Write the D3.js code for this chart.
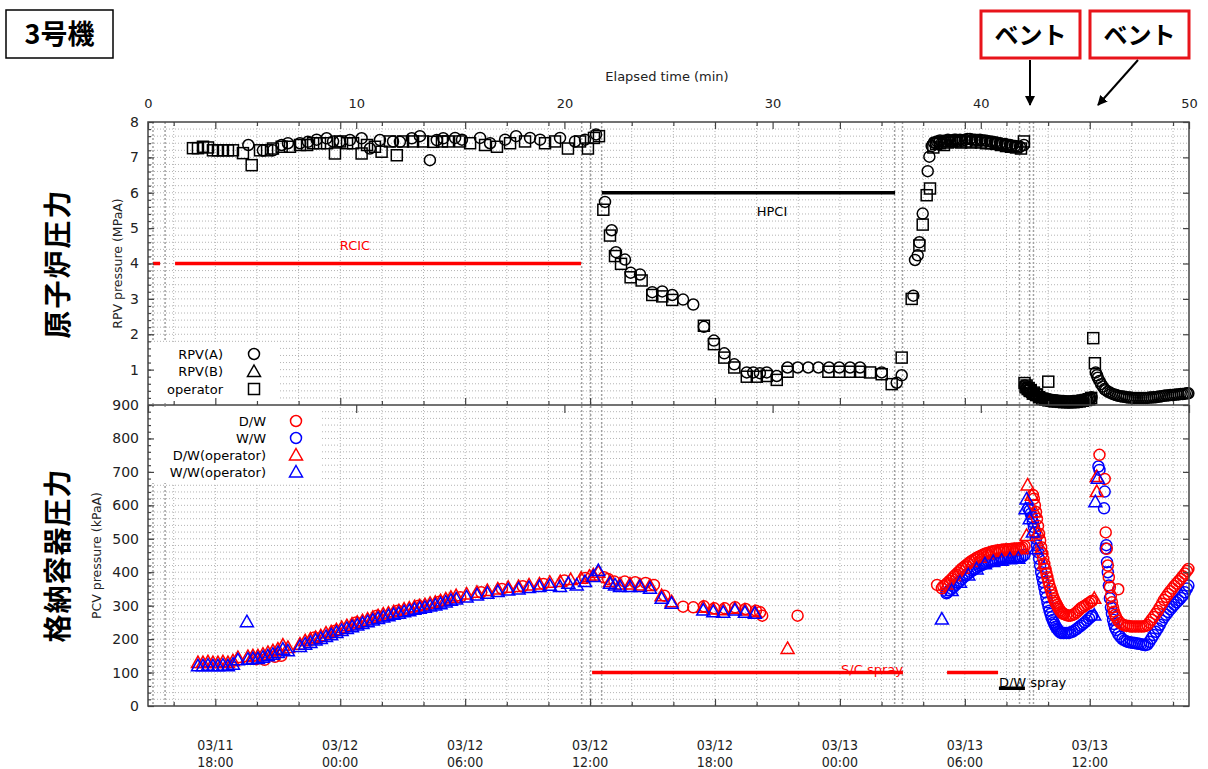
<!DOCTYPE html>
<html><head><meta charset="utf-8">
<script src="https://cdn.jsdelivr.net/npm/d3@7"></script>
<style>
body{margin:0;background:#fff;}
svg{display:block;}
text{font-family:"DejaVu Sans",sans-serif;}
</style>
</head><body>
<svg id="c" width="1208" height="769"></svg>
<script>
// ===== DATA (x = elapsed hours since 03/11 14:46) =====
const elapsedTicks = [0,10,20,30,40,50];
const rpvTicks = [1,2,3,4,5,6,7,8];
const pcvTicks = [0,100,200,300,400,500,600,700,800,900];
const eventHours = [0.24,0.82,20.83,21.26,21.79,35.86,36.24,41.86,42.34,42.53];

// RPV(A) circles [h, MPa]
const rpvA = [
[4.82,7.35],[5.52,7.2],[6.0,7.2],[6.42,7.35],[6.72,7.4],[7.3,7.4],[7.68,7.44],[8.1,7.5],[8.58,7.54],[8.89,7.45],
[9.22,7.45],[9.7,7.49],[10.26,7.54],[10.66,7.25],[11.14,7.49],[11.77,7.45],[12.1,7.44],[12.67,7.54],[13.06,7.6],[13.54,6.92],
[13.87,7.49],[14.18,7.54],[14.75,7.55],[15.08,7.5],[15.95,7.55],[16.43,7.4],[17.15,7.5],[17.68,7.6],[18.35,7.55],[18.83,7.5],
[19.79,7.55],[20.51,7.45],[20.99,7.5],[21.52,7.65],
[21.95,5.74],[22.27,4.94],[22.48,4.32],[22.91,4.11],[23.18,3.74],[23.63,3.69],[24.22,3.19],[24.7,3.21],[25.18,3.11],[25.7,2.98],
[26.19,2.84],[26.7,2.21],[27.18,1.82],[27.68,1.46],[28.16,1.15],[28.76,0.92],[29.07,0.92],[29.39,0.9],[29.72,0.92],[30.2,0.82],
[30.72,1.06],[31.21,1.06],[31.71,1.06],[32.2,1.06],[32.71,1.06],[33.2,1.06],[33.72,1.06],[34.2,1.06],[35.24,0.92],[35.96,0.63],[36.2,0.84],
[36.76,3.09],[36.84,4.1],[36.97,4.23],[37.05,4.6],[37.21,5.41],[37.45,6.61],[37.53,7.02],[37.64,7.32],[37.75,7.42],[37.85,7.4],[37.9,7.45],
[38.0,7.45],[38.04,7.48],[38.15,7.44],[38.23,7.47],[38.33,7.45],[38.42,7.5],[38.52,7.46],[38.62,7.48],[38.72,7.5],[38.81,7.5],[38.9,7.47],[39.0,7.5],
[39.12,7.48],[39.24,7.5],[39.36,7.52],[39.48,7.52],[39.6,7.5],[39.72,7.5],[39.84,7.49],[39.96,7.5],[40.08,7.48],
[40.2,7.48],[40.32,7.46],[40.44,7.45],[40.56,7.44],[40.68,7.43],[40.8,7.41],[40.92,7.4],[41.04,7.38],[41.16,7.38],[41.28,7.36],[41.4,7.35],
[41.52,7.33],[41.64,7.32],[41.76,7.31],[41.88,7.3],[42.07,7.35],
[42.12,0.55],[42.18,0.45],[42.25,0.4],[42.32,0.36],[42.4,0.33],[42.47,0.3],[42.55,0.28],[42.62,0.26],[42.7,0.25],[42.78,0.23],
[42.85,0.22],[42.93,0.2],[43.0,0.19],[43.08,0.18],[43.15,0.17],[43.23,0.16],[43.3,0.15],[43.38,0.14],[43.45,0.14],[43.53,0.13],
[43.6,0.13],[43.68,0.12],[43.75,0.12],[43.83,0.11],[43.9,0.11],[43.98,0.11],[44.05,0.1],[44.13,0.1],[44.2,0.1],[44.28,0.1],
[44.35,0.1],[44.43,0.11],[44.5,0.11],[44.58,0.11],[44.65,0.12],[44.73,0.12],[44.8,0.13],[44.88,0.14],[44.95,0.15],[45.03,0.16],
[45.1,0.17],[45.18,0.18],[45.25,0.2],[45.32,0.22],
[45.52,0.92],[45.58,0.84],[45.62,0.77],[45.7,0.68],[45.78,0.59],[45.86,0.52],[45.94,0.45],[46.0,0.42],[46.1,0.38],[46.2,0.35],[46.3,0.32],
[46.4,0.3],[46.5,0.28],[46.6,0.26],[46.7,0.25],[46.8,0.24],[46.9,0.23],[47.0,0.22],[47.1,0.21],[47.2,0.21],[47.3,0.2],
[47.4,0.2],[47.5,0.2],[47.6,0.2],[47.7,0.2],[47.8,0.2],[47.9,0.2],[48.0,0.2],[48.1,0.21],[48.2,0.21],[48.3,0.22],
[48.4,0.22],[48.5,0.23],[48.6,0.24],[48.7,0.25],[48.8,0.26],[48.9,0.27],[49.0,0.27],[49.1,0.28],[49.2,0.28],[49.3,0.29],
[49.4,0.3],[49.5,0.3],[49.6,0.31],[49.7,0.31],[49.8,0.32],[49.9,0.33],[49.97,0.33]
];
// RPV(B) triangles (legend only, no readings visible)
const rpvB = [];
// operator squares [h, MPa]
const rpvOp = [
[2.16,7.26],[2.4,7.26],[2.64,7.3],[2.88,7.28],[3.12,7.2],[3.36,7.2],[3.6,7.2],[3.84,7.2],[4.08,7.2],[4.56,7.12],
[4.98,6.78],[5.38,7.2],[5.72,7.2],[6.0,7.25],[6.42,7.3],[6.82,7.3],[7.3,7.35],[7.64,7.35],[7.93,7.4],[8.26,7.4],
[8.6,7.4],[8.98,7.11],[9.22,7.45],[9.56,7.4],[9.85,7.4],[10.26,7.11],[10.52,7.35],[10.9,7.3],[11.22,7.16],[11.62,7.45],
[11.95,7.06],[12.25,7.45],[12.73,7.45],[13.21,7.45],[13.7,7.44],[14.12,7.45],[14.41,7.45],[14.99,7.45],[15.47,7.4],[16.19,7.35],
[16.76,7.3],[17.39,7.4],[18.11,7.45],[19.07,7.4],[19.55,7.45],[20.17,7.25],[20.75,7.45],[21.13,7.25],[21.42,7.55],[21.66,7.6],
[21.87,5.52],[22.19,4.79],[22.43,4.21],[22.72,3.99],[23.18,3.61],[23.71,3.52],[24.22,3.11],[24.7,3.07],[25.18,2.97],[26.7,2.24],
[27.18,1.72],[27.68,1.34],[28.16,1.06],[28.76,0.8],[29.24,0.8],[29.72,0.82],[30.2,0.71],[30.72,0.94],[32.68,0.94],[33.2,0.94],
[33.72,0.94],[34.2,0.94],[34.68,0.92],[35.24,0.87],[35.72,0.59],[36.2,1.34],
[36.68,3.0],[37.05,4.51],[37.21,5.1],[37.4,5.93],[37.56,6.12],[37.72,7.28],[37.85,7.38],[38.04,7.4],[38.23,7.35],[38.42,7.42],
[38.62,7.45],[38.81,7.45],[39.05,7.42],[39.29,7.45],[39.53,7.42],[39.77,7.45],[40.01,7.42],[40.25,7.4],[40.49,7.4],[40.73,7.38],
[40.97,7.35],[41.21,7.32],[41.45,7.3],[41.69,7.28],[41.93,7.25],[42.07,7.45],
[42.1,0.62],[42.15,0.5],[42.2,0.55],[42.25,0.45],[42.3,0.48],[42.35,0.4],[42.4,0.42],[42.5,0.32],[42.55,0.35],[42.65,0.28],
[42.7,0.3],[42.8,0.22],[42.95,0.18],[43.1,0.15],[43.24,0.66],[43.25,0.13],[43.4,0.12],[43.55,0.1],[43.7,0.1],[43.85,0.09],
[44.0,0.08],[44.15,0.08],[44.3,0.08],[44.45,0.08],[44.6,0.09],[44.75,0.1],[44.9,0.12],[45.05,0.14],[45.2,0.16],[45.3,0.2],
[45.4,1.89],[45.48,1.18]
];

// PCV: D/W circles [h, kPa]
const dwCirc = [
[5.2,140],[5.6,138],[6.1,147],[6.4,150],[8.0,205],[9.0,225],[10.0,250],[11.0,270],[12.0,285],[13.0,300],
[14.0,312],[15.0,325],[16.0,340],[17.0,350],[18.0,358],[19.0,365],[20.0,375],[21.0,383],
[21.9,385],[22.1,380],[22.4,372],[22.9,372],[23.4,370],[23.9,368],[24.3,362],[24.8,330],[25.7,297],[26.19,295],
[26.7,298],[27.2,292],[27.7,292],[28.2,295],[28.7,290],[29.2,285],[29.4,280],[29.5,270],[31.2,270],
[37.9,362],[38.13,352],[38.2,358],[38.3,362],[38.4,368],[38.5,374],[38.6,380],[38.7,387],[38.8,393],[38.9,399],
[39.0,405],[39.1,411],[39.2,416],[39.3,421],[39.4,426],[39.5,431],[39.6,435],[39.7,439],[39.8,443],[39.9,446],
[40.0,449],[40.1,452],[40.2,455],[40.3,457],[40.4,459],[40.5,461],[40.6,463],[40.7,464],[40.8,465],[40.9,466],
[41.0,467],[41.1,468],[41.2,468],[41.3,469],[41.4,469],[41.5,470],[41.6,470],[41.7,471],[41.8,471],[41.9,472],
[42.0,474],[42.1,478],
[42.5,631],[42.55,620],[42.6,600],[42.65,580],[42.7,560],[42.75,538],[42.8,515],[42.85,495],[42.9,475],[42.95,457],
[43.0,440],[43.05,425],[43.1,410],[43.15,397],[43.2,385],[43.25,372],[43.3,360],[43.35,350],[43.4,340],[43.45,331],
[43.5,322],[43.55,315],[43.6,308],[43.65,302],[43.7,296],[43.75,291],[43.8,286],[43.85,282],[43.9,278],[43.95,276],
[44.0,275],[44.1,272],[44.2,270],[44.3,270],[44.4,272],[44.5,275],[44.6,280],[44.7,286],[44.8,292],[44.9,296],
[45.0,300],[45.1,304],[45.2,308],[45.3,312],[45.35,315],
[45.7,751],[45.95,679],[46.0,519],[46.05,470],[46.1,420],[46.15,385],[46.2,355],[46.25,330],[46.3,310],[46.35,295],
[46.4,282],[46.45,272],[46.5,265],[46.6,255],[46.6,349],[46.7,248],[46.8,244],[46.9,241],[47.0,240],[47.1,239],
[47.2,238],[47.3,238],[47.4,238],[47.5,238],[47.6,238],[47.7,238],[47.8,238],[47.9,239],[48.0,242],[48.1,250],
[48.2,258],[48.3,266],[48.4,275],[48.5,284],[48.6,295],[48.7,306],[48.8,317],[48.9,326],[49.0,335],[49.1,343],
[49.2,351],[49.3,359],[49.4,366],[49.5,373],[49.6,380],[49.7,388],[49.8,396],[49.9,404],[49.97,410]
];
// PCV: W/W circles
const wwCirc = [
[38.35,337],[38.4,340],[38.5,345],[38.6,350],[38.7,356],[38.8,362],[38.9,368],[39.0,374],[39.1,380],[39.2,386],
[39.3,391],[39.4,396],[39.5,401],[39.6,405],[39.7,409],[39.8,413],[39.9,417],[40.0,420],[40.1,423],[40.2,426],
[40.3,428],[40.4,430],[40.5,432],[40.6,434],[40.7,435],[40.8,437],[40.9,438],[41.0,439],[41.1,440],[41.2,441],
[41.3,442],[41.4,442],[41.5,443],[41.6,443],[41.7,444],[41.8,444],[41.9,445],[42.0,447],[42.1,452],
[42.28,591],[42.35,585],[42.4,575],[42.45,565],[42.5,550],[42.55,535],[42.6,518],[42.65,500],[42.7,480],[42.75,460],
[42.8,440],[42.85,420],[42.9,400],[42.95,385],[43.0,370],[43.05,355],[43.1,340],[43.15,325],[43.2,310],[43.25,297],
[43.3,285],[43.35,275],[43.4,265],[43.45,257],[43.5,250],[43.55,243],[43.6,237],[43.65,232],[43.7,228],[43.75,224],
[43.8,221],[43.85,219],[43.9,218],[44.0,218],[44.1,218],[44.2,218],[44.3,220],[44.4,222],[44.5,226],[44.6,230],
[44.7,235],[44.8,240],[44.9,245],[45.0,250],[45.1,256],[45.2,262],[45.3,267],[45.35,270],
[45.65,716],[45.7,706],[45.92,591],[45.95,641],[46.0,471],[46.03,481],[46.06,430],[46.1,400],[46.15,360],[46.2,322],
[46.25,295],[46.3,275],[46.35,258],[46.4,245],[46.45,235],[46.5,227],[46.6,215],[46.7,207],[46.8,200],[46.9,196],
[47.0,193],[47.1,191],[47.2,190],[47.3,189],[47.4,188],[47.5,187],[47.6,186],[47.7,185],[47.8,183],[47.9,182],
[48.0,184],[48.1,192],[48.2,202],[48.3,212],[48.4,222],[48.5,232],[48.6,243],[48.7,255],[48.8,265],[48.9,273],
[49.0,281],[49.1,289],[49.2,296],[49.3,303],[49.4,310],[49.5,316],[49.6,323],[49.7,330],[49.8,340],[49.9,351],[49.97,360]
];
// PCV: D/W(operator) triangles
const dwOp = [
[2.4,130],[2.64,130],[2.88,132],[3.12,130],[3.36,130],[3.6,132],[3.84,130],[4.08,135],[4.32,145],[4.8,148],
[5.04,150],[5.28,150],[5.52,155],[5.76,160],[6.0,165],[6.24,170],[6.48,182],[6.72,175],[7.3,185],[7.55,195],
[7.8,200],[8.05,205],[8.3,210],[8.55,218],[8.8,222],[9.05,228],[9.3,235],[9.55,240],[9.8,245],[10.05,250],
[10.3,255],[10.55,260],[10.8,265],[11.05,270],[11.3,275],[11.55,278],[11.8,282],[12.05,285],[12.3,290],[12.55,293],
[12.8,297],[13.05,300],[13.3,303],[13.55,307],[13.8,310],[14.05,315],[14.3,320],[14.55,325],[14.8,330],[15.3,335],
[15.8,340],[16.3,345],[16.8,350],[17.3,355],[17.8,357],[18.3,362],[18.8,365],[19.3,370],[19.8,372],[20.3,378],
[20.8,382],[21.2,388],[21.39,392],[21.63,400],[22.19,372],[22.67,365],[23.15,365],[23.63,362],[24.11,360],[24.67,330],
[25.15,312],[26.67,295],[27.15,290],[27.63,288],[28.19,292],[28.67,287],[29.15,282],[30.72,172],
[38.4,365],[38.8,390],[39.2,412],[39.6,432],[40.0,445],[40.4,455],[40.8,462],[41.2,465],[41.6,467],[42.0,470],
[42.2,510],[42.25,661],[42.45,630],[42.6,580],[42.75,520],[42.9,470],[43.05,425],[45.45,322],[45.57,686],[45.57,641]
];
// PCV: W/W(operator) triangles
const wwOp = [
[2.4,120],[2.64,120],[2.88,122],[3.12,120],[3.36,120],[3.6,122],[3.84,120],[4.08,125],[4.32,138],[4.75,252],
[4.8,140],[5.04,142],[5.28,142],[5.52,146],[5.76,150],[6.0,155],[6.24,160],[6.48,170],[6.72,165],[7.3,178],
[7.55,185],[7.8,190],[8.05,197],[8.3,202],[8.55,208],[8.8,213],[9.05,220],[9.3,226],[9.55,232],[9.8,237],
[10.05,242],[10.3,247],[10.55,252],[10.8,257],[11.05,262],[11.3,266],[11.55,270],[11.8,274],[12.05,277],[12.3,282],
[12.55,285],[12.8,289],[13.05,292],[13.3,295],[13.55,299],[13.8,302],[14.05,306],[14.3,311],[14.55,316],[14.8,320],
[15.3,326],[15.8,332],[16.3,337],[16.8,342],[17.3,347],[17.8,350],[18.3,354],[18.8,357],[19.3,361],[19.79,357],
[20.19,367],[20.59,362],[20.99,372],[21.39,387],[21.63,405],[22.19,367],[22.43,362],[22.67,357],[23.15,357],[23.63,357],
[24.11,352],[24.67,322],[25.15,307],[26.67,287],[27.15,282],[27.63,280],[28.19,287],[28.67,280],[29.15,277],
[38.13,260],[38.6,345],[39.0,370],[39.4,392],[39.8,410],[40.2,425],[40.6,432],[41.0,436],[41.4,440],[41.8,442],
[42.15,590],[42.2,619],[42.35,560],[42.5,520],[42.65,470],[45.45,272],[45.5,611],[45.62,681]
];

// Bars
const rcicSegs = [[0.24,0.58],[1.3,20.8]];     // at 4 MPa
const hpciSeg = [21.8,35.88];                   // at 6 MPa
const scSpraySegs = [[21.33,36.26],[38.38,40.83]]; // at 100 kPa
const dwSpraySeg = [40.87,42.12];               // at 53 kPa

// ===== CHART =====
const svg = d3.select("#c");
const L=148,R=1189,T=122,M=405,B=706;
const t0 = new Date(2011,2,11,14,46);
const tEnd = d3.timeHour.offset(t0,50);
const xE = d3.scaleLinear().domain([0,50]).range([L,R]);
const xD = d3.scaleTime().domain([t0,tEnd]).range([L,R]);
const yR = d3.scaleLinear().domain([0,8]).range([M,T]);
const yP = d3.scaleLinear().domain([0,900]).range([B,M]);
const date2h = d3.timeHour.every(2).range(t0,tEnd);
const date6h = date2h.filter(d=>d.getHours()%6===0);
const date2only = date2h.filter(d=>d.getHours()%6!==0);

// grid
const grid = svg.append("g").attr("stroke","#b4b4b4").attr("stroke-width",1).attr("stroke-dasharray","1,2");
d3.range(1,40).forEach(i=>{const v=i*0.2; grid.append("line").attr("x1",L).attr("x2",R).attr("y1",yR(v)).attr("y2",yR(v));});
d3.range(1,45).forEach(i=>{const v=i*20; grid.append("line").attr("x1",L).attr("x2",R).attr("y1",yP(v)).attr("y2",yP(v));});
date2h.forEach(d=>{grid.append("line").attr("x1",xD(d)).attr("x2",xD(d)).attr("y1",T).attr("y2",B);});
// event lines
const ev = svg.append("g").attr("stroke","#a0a0a0").attr("stroke-width",1.5).attr("stroke-dasharray","2,2");
eventHours.forEach(h=>{ev.append("line").attr("x1",xE(h)).attr("x2",xE(h)).attr("y1",T).attr("y2",B);});

// legend backgrounds
svg.append("rect").attr("x",150).attr("y",342).attr("width",130).attr("height",61).attr("fill","#fff");
svg.append("rect").attr("x",150).attr("y",407).attr("width",170).attr("height",76).attr("fill","#fff");

// bars
const bars = svg.append("g");
rcicSegs.forEach(s=>bars.append("line").attr("x1",xE(s[0])).attr("x2",xE(s[1])).attr("y1",yR(4)).attr("y2",yR(4)).attr("stroke","#f00").attr("stroke-width",3.5));
bars.append("line").attr("x1",xE(hpciSeg[0])).attr("x2",xE(hpciSeg[1])).attr("y1",yR(6)).attr("y2",yR(6)).attr("stroke","#000").attr("stroke-width",3.5);
scSpraySegs.forEach(s=>bars.append("line").attr("x1",xE(s[0])).attr("x2",xE(s[1])).attr("y1",yP(100)).attr("y2",yP(100)).attr("stroke","#f00").attr("stroke-width",3.5));
bars.append("line").attr("x1",xE(dwSpraySeg[0])).attr("x2",xE(dwSpraySeg[1])).attr("y1",yP(53)).attr("y2",yP(53)).attr("stroke","#000").attr("stroke-width",3.5);
bars.append("text").attr("x",355).attr("y",250).attr("text-anchor","middle").attr("fill","#f00").attr("font-size",13).text("RCIC");
bars.append("text").attr("x",772).attr("y",216).attr("text-anchor","middle").attr("fill","#000").attr("font-size",13).text("HPCI");
bars.append("text").attr("x",xE(scSpraySegs[0][1])).attr("y",yP(100)+1).attr("text-anchor","end").attr("fill","#f00").attr("font-size",13).text("S/C spray");
bars.append("text").attr("x",xE(dwSpraySeg[0])).attr("y",yP(53)-1).attr("fill","#000").attr("font-size",13).text("D/W spray");

// markers
function marker(g, shape, x, y, color){
  if(shape==="circle") g.append("circle").attr("cx",x).attr("cy",y).attr("r",5.5).attr("fill","none").attr("stroke",color).attr("stroke-width",1.5);
  else if(shape==="square") g.append("rect").attr("x",x-5.5).attr("y",y-5.5).attr("width",11).attr("height",11).attr("fill","none").attr("stroke",color).attr("stroke-width",1.5);
  else g.append("path").attr("d",`M${x},${y-6.5}L${x+6.5},${y+5}L${x-6.5},${y+5}Z`).attr("fill","none").attr("stroke",color).attr("stroke-width",1.5);
}
function series(data, ys, shape, color){
  const g = svg.append("g");
  data.forEach(d=>marker(g, shape, xE(d[0]), ys(d[1]), color));
}
series(rpvOp, yR, "square", "#000");
series(rpvA, yR, "circle", "#000");
series(rpvB, yR, "triangle", "#000");
series(wwCirc, yP, "circle", "#00f");
series(dwCirc, yP, "circle", "#f00");
series(dwOp, yP, "triangle", "#f00");
series(wwOp, yP, "triangle", "#00f");

// legends
const lg = svg.append("g").attr("font-size",13);
[["RPV(A)","circle"],["RPV(B)","triangle"],["operator","square"]].forEach((e,i)=>{
  const y=354+i*17.5;
  lg.append("text").attr("x",223).attr("y",y+4.5).attr("text-anchor","end").text(e[0]);
  marker(lg,e[1],254,y,"#000");
});
[["D/W","circle","#f00"],["W/W","circle","#00f"],["D/W(operator)","triangle","#f00"],["W/W(operator)","triangle","#00f"]].forEach((e,i)=>{
  const y=421+i*17;
  lg.append("text").attr("x",266).attr("y",y+4.5).attr("text-anchor","end").text(e[0]);
  marker(lg,e[1],296,y,e[2]);
});

// frames
svg.append("rect").attr("x",L).attr("y",T).attr("width",R-L).attr("height",B-T).attr("fill","none").attr("stroke","#444").attr("stroke-width",1.5);
svg.append("line").attr("x1",L).attr("x2",R).attr("y1",M).attr("y2",M).attr("stroke","#444").attr("stroke-width",1.5);

function clean(g){ g.select(".domain").remove(); g.selectAll(".tick line").attr("stroke","#444").attr("stroke-width",1.2); g.selectAll("text").attr("fill","#222"); }
// top edge: elapsed labels + date ticks
svg.append("g").attr("transform",`translate(0,${T})`).call(d3.axisTop(xE).tickValues(elapsedTicks).tickSize(-7).tickPadding(14)).attr("font-size",13).attr("font-family","DejaVu Sans").call(clean);
svg.append("g").attr("transform",`translate(0,${T})`).call(d3.axisTop(xD).tickValues(date6h).tickSize(-7).tickFormat("")).call(clean);
svg.append("g").attr("transform",`translate(0,${T})`).call(d3.axisTop(xD).tickValues(date2only).tickSize(-4).tickFormat("")).call(clean);
// middle
svg.append("g").attr("transform",`translate(0,${M})`).call(d3.axisBottom(xD).tickValues(date6h).tickSize(-7).tickFormat("")).call(clean);
svg.append("g").attr("transform",`translate(0,${M})`).call(d3.axisBottom(xD).tickValues(date2only).tickSize(-4).tickFormat("")).call(clean);
svg.append("g").attr("transform",`translate(0,${M})`).call(d3.axisBottom(xE).tickValues(elapsedTicks).tickSize(8).tickFormat("")).call(clean);
// bottom
svg.append("g").attr("transform",`translate(0,${B})`).call(d3.axisBottom(xD).tickValues(date6h).tickSize(-7).tickFormat("")).call(clean);
svg.append("g").attr("transform",`translate(0,${B})`).call(d3.axisBottom(xD).tickValues(date2only).tickSize(-4).tickFormat("")).call(clean);
const fD = d3.timeFormat("%m/%d"), fT = d3.timeFormat("%H:%M");
const dl = svg.append("g").attr("font-size",14).attr("fill","#222").attr("text-anchor","middle")
  .style("font-family","'DejaVu Sans Condensed','Liberation Sans Narrow','DejaVu Sans',sans-serif").style("font-stretch","condensed");
date6h.forEach(d=>{
  dl.append("text").attr("x",xD(d)).attr("y",750).text(fD(d));
  dl.append("text").attr("x",xD(d)).attr("y",767).text(fT(d));
});
// left/right y axes
svg.append("g").attr("transform",`translate(${L},0)`).call(d3.axisLeft(yR).tickValues(rpvTicks).tickSize(-6).tickPadding(9)).attr("font-size",14).attr("font-family","DejaVu Sans").call(clean);
svg.append("g").attr("transform",`translate(${L},0)`).call(d3.axisLeft(yR).tickValues(d3.range(1,40).map(i=>i*0.2)).tickSize(-3).tickFormat("")).call(clean);
svg.append("g").attr("transform",`translate(${L},0)`).call(d3.axisLeft(yP).tickValues(pcvTicks).tickSize(-6).tickPadding(9)).attr("font-size",14).attr("font-family","DejaVu Sans").call(clean);
svg.append("g").attr("transform",`translate(${L},0)`).call(d3.axisLeft(yP).tickValues(d3.range(1,45).map(i=>i*20)).tickSize(-3).tickFormat("")).call(clean);
svg.append("g").attr("transform",`translate(${R},0)`).call(d3.axisRight(yR).tickValues(rpvTicks).tickSize(-6).tickFormat("")).call(clean);
svg.append("g").attr("transform",`translate(${R},0)`).call(d3.axisRight(yP).tickValues(pcvTicks).tickSize(-6).tickFormat("")).call(clean);

// axis titles
svg.append("text").attr("x",667).attr("y",81).attr("text-anchor","middle").attr("font-size",13).attr("fill","#222").text("Elapsed time (min)");
svg.append("text").attr("transform",`translate(122,${(T+M)/2}) rotate(-90)`).attr("text-anchor","middle").attr("font-size",12.5).attr("fill","#222").text("RPV pressure (MPaA)");
svg.append("text").attr("transform",`translate(101,${(M+B)/2}) rotate(-90)`).attr("text-anchor","middle").attr("font-size",12.5).attr("fill","#222").text("PCV pressure (kPaA)");
const jp = "'Noto Sans CJK JP','Noto Sans CJK SC',sans-serif";
svg.append("text").attr("transform",`translate(68,${(T+M)/2}) rotate(-90)`).attr("text-anchor","middle").attr("font-size",28).attr("font-weight","bold").style("font-family",jp).attr("letter-spacing",2).text("原子炉圧力");
svg.append("text").attr("transform",`translate(68,${(M+B)/2}) rotate(-90)`).attr("text-anchor","middle").attr("font-size",28).attr("font-weight","bold").style("font-family",jp).attr("letter-spacing",1).text("格納容器圧力");

// title box
svg.append("rect").attr("x",6).attr("y",10).attr("width",107).attr("height",48).attr("fill","#fff").attr("stroke","#000").attr("stroke-width",1.5);
svg.append("text").attr("x",59.5).attr("y",44).attr("text-anchor","middle").attr("font-size",27).attr("font-weight","bold").style("font-family",jp).text("3号機");

// vent annotations
const defs = svg.append("defs");
defs.append("marker").attr("id","ah").attr("viewBox","0 0 10 10").attr("refX",9).attr("refY",5).attr("markerWidth",5).attr("markerHeight",5).attr("orient","auto")
  .append("path").attr("d","M0,0L10,5L0,10Z").attr("fill","#000");
[[981,1030,1030],[1090,1138,1098]].forEach(b=>{
  svg.append("rect").attr("x",b[0]).attr("y",11).attr("width",99).attr("height",47).attr("fill","#fff").attr("stroke","#e8141b").attr("stroke-width",3);
  svg.append("text").attr("x",b[0]+49.5).attr("y",44).attr("text-anchor","middle").attr("font-size",24).attr("font-weight","bold").style("font-family",jp).text("ベント");
  svg.append("line").attr("x1",b[1]).attr("y1",60).attr("x2",b[2]).attr("y2",105).attr("stroke","#000").attr("stroke-width",2).attr("marker-end","url(#ah)");
});
</script>
</body></html>
